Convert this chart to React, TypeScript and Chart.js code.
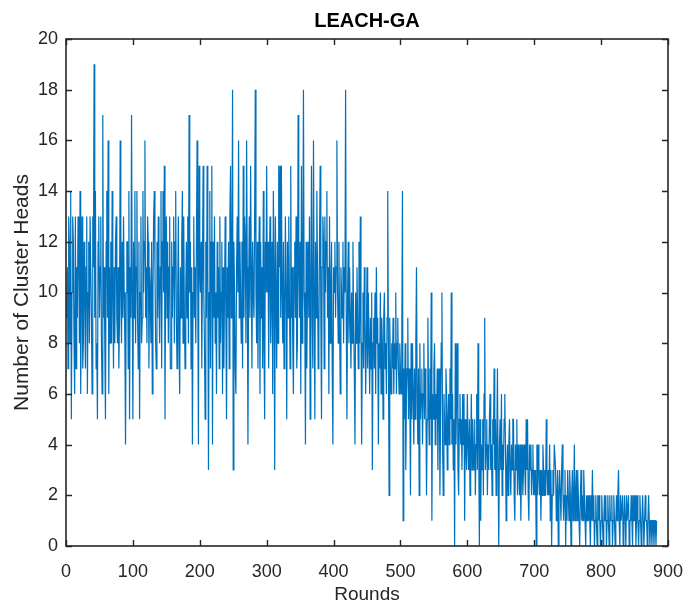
import { useEffect, useRef } from "react";
import { Chart, registerables } from "chart.js";

Chart.register(...registerables);

// Number of cluster heads per round (rounds 1..883)
const heads001to100 = [
  9, 11, 7, 13, 12, 8, 14, 5, 10, 13, 12, 8, 6, 13, 7, 11, 9, 13, 12, 8,
  14, 6, 10, 13, 7, 8, 12, 10, 7, 11, 13, 6, 10, 12, 8, 13, 13, 9, 6, 13,
  11, 19, 9, 14, 7, 8, 5, 12, 13, 9, 11, 13, 8, 6, 17, 9, 11, 8, 5, 12,
  14, 9, 16, 6, 11, 8, 12, 8, 14, 10, 7, 11, 8, 12, 13, 9, 8, 11, 7, 9,
  16, 10, 8, 12, 9, 13, 10, 8, 4, 10, 12, 12, 7, 14, 5, 11, 9, 17, 10, 5,
];
const heads101to200 = [
  12, 9, 14, 8, 11, 14, 9, 7, 12, 5, 10, 13, 8, 9, 14, 10, 12, 16, 9, 11,
  8, 13, 12, 7, 11, 10, 8, 12, 6, 10, 13, 14, 11, 8, 7, 12, 9, 13, 10, 8,
  11, 14, 7, 12, 14, 10, 15, 5, 11, 13, 9, 12, 8, 11, 13, 7, 7, 12, 9, 11,
  13, 8, 12, 14, 9, 7, 10, 13, 8, 6, 11, 9, 12, 14, 8, 13, 9, 7, 10, 12,
  9, 13, 8, 17, 10, 12, 7, 11, 4, 10, 13, 9, 11, 8, 12, 16, 10, 4, 15, 11,
];
const heads201to300 = [
  10, 12, 7, 11, 15, 10, 8, 5, 12, 9, 15, 11, 3, 10, 14, 7, 12, 15, 4, 12,
  9, 13, 8, 10, 6, 12, 9, 11, 7, 13, 8, 10, 12, 6, 11, 7, 10, 13, 9, 5,
  11, 9, 12, 7, 13, 15, 9, 11, 18, 3, 12, 10, 7, 6, 11, 13, 10, 16, 9, 12,
  10, 8, 12, 7, 15, 9, 13, 12, 8, 16, 11, 4, 10, 13, 9, 15, 11, 7, 12, 10,
  9, 13, 18, 10, 8, 12, 7, 11, 13, 6, 12, 9, 11, 7, 14, 8, 5, 12, 10, 15,
];
const heads301to400 = [
  10, 12, 7, 11, 13, 8, 10, 12, 6, 14, 11, 3, 13, 10, 7, 12, 8, 15, 11, 15,
  9, 15, 10, 8, 12, 7, 9, 13, 10, 5, 12, 9, 13, 10, 7, 15, 9, 11, 8, 6,
  11, 12, 9, 13, 7, 8, 17, 11, 9, 12, 6, 15, 8, 11, 18, 10, 9, 4, 12, 7,
  10, 12, 9, 13, 5, 10, 15, 9, 7, 16, 10, 5, 12, 9, 14, 11, 7, 8, 12, 15,
  9, 5, 11, 13, 12, 7, 13, 10, 12, 14, 9, 11, 6, 13, 8, 10, 12, 7, 4, 11,
];
const heads401to500 = [
  10, 12, 9, 11, 16, 10, 8, 12, 9, 6, 11, 10, 9, 12, 8, 11, 10, 18, 9, 5,
  10, 12, 8, 11, 9, 7, 10, 8, 12, 9, 7, 4, 10, 8, 11, 9, 7, 12, 8, 13,
  9, 4, 8, 10, 7, 11, 9, 6, 8, 11, 7, 10, 8, 6, 9, 7, 10, 3, 8, 9,
  7, 10, 6, 11, 8, 9, 4, 8, 7, 10, 6, 9, 8, 5, 9, 10, 7, 8, 6, 9,
  14, 8, 2, 9, 7, 6, 8, 7, 9, 6, 8, 7, 10, 6, 8, 9, 7, 6, 8, 7,
];
const heads501to600 = [
  6, 8, 14, 1, 7, 5, 8, 3, 6, 7, 9, 5, 7, 6, 2, 8, 5, 8, 6, 4,
  7, 5, 8, 11, 6, 4, 7, 2, 8, 5, 6, 7, 4, 6, 8, 5, 7, 6, 2, 5,
  9, 6, 4, 7, 5, 10, 1, 6, 5, 7, 8, 4, 6, 5, 7, 3, 6, 7, 2, 5,
  8, 10, 4, 2, 6, 5, 4, 7, 6, 3, 5, 6, 4, 7, 5, 10, 4, 6, 3, 5,
  0, 8, 4, 6, 8, 3, 2, 5, 6, 4, 5, 3, 6, 4, 6, 1, 5, 4, 3, 6,
];
const heads601to700 = [
  4, 3, 5, 2, 4, 6, 3, 5, 4, 3, 5, 2, 4, 6, 3, 8, 4, 0, 5, 1,
  4, 3, 5, 2, 6, 9, 3, 4, 5, 2, 4, 3, 5, 6, 3, 4, 2, 5, 4, 7,
  3, 5, 2, 4, 7, 3, 0, 4, 5, 3, 6, 2, 4, 3, 5, 6, 4, 1, 3, 4,
  2, 4, 5, 3, 2, 4, 3, 5, 5, 2, 1, 4, 3, 5, 2, 4, 3, 2, 4, 1,
  3, 4, 2, 3, 4, 3, 2, 5, 3, 5, 2, 1, 4, 3, 4, 2, 3, 4, 2, 3,
];
const heads701to800 = [
  2, 3, 0, 4, 2, 4, 3, 2, 3, 1, 3, 2, 4, 3, 2, 3, 2, 5, 3, 2,
  3, 2, 4, 1, 3, 0, 2, 3, 2, 4, 4, 3, 1, 2, 3, 0, 2, 3, 2, 1,
  3, 4, 2, 1, 2, 3, 0, 2, 1, 3, 2, 1, 3, 2, 0, 2, 3, 1, 2, 4,
  1, 2, 3, 1, 3, 2, 1, 0, 2, 3, 1, 2, 1, 3, 2, 1, 0, 2, 1, 2,
  1, 2, 1, 0, 2, 1, 3, 1, 2, 0, 1, 2, 1, 0, 2, 1, 2, 1, 0, 1,
];
const heads801to883 = [
  2, 1, 0, 1, 2, 1, 2, 0, 1, 2, 1, 0, 2, 1, 1, 2, 0, 1, 2, 1,
  0, 1, 2, 1, 2, 3, 1, 0, 2, 1, 1, 2, 0, 1, 2, 1, 0, 2, 1, 1,
  2, 0, 1, 1, 2, 1, 0, 2, 1, 1, 2, 0, 1, 2, 1, 0, 1, 2, 1, 0,
  1, 2, 1, 0, 1, 2, 1, 1, 0, 1, 2, 1, 0, 1, 1, 0, 1, 1, 0, 1, 1, 0, 1,
];

const xTickValues = [0, 100, 200, 300, 400, 500, 600, 700, 800, 900];
const yTickValues = [0, 2, 4, 6, 8, 10, 12, 14, 16, 18, 20];

const chartTitle = "LEACH-GA";
const xAxisTitle = "Rounds";
const yAxisTitle = "Number of Cluster Heads";

const FONT = "'Liberation Sans', Arial, Helvetica, sans-serif";
const AXIS_COLOR = "#262626";

export default function App() {
  const canvasRef = useRef<HTMLCanvasElement | null>(null);

  useEffect(() => {
    const canvas = canvasRef.current;
    if (!canvas) return;

    const heads = [
      ...heads001to100,
      ...heads101to200,
      ...heads201to300,
      ...heads301to400,
      ...heads401to500,
      ...heads501to600,
      ...heads601to700,
      ...heads701to800,
      ...heads801to883,
    ];
    const points = heads.map((v, i) => ({ x: i + 1, y: v }));

    const boxPlugin = {
      id: "matlabBox",
      afterDatasetsDraw(chart: any) {
        const { ctx, chartArea: a, scales } = chart;
        ctx.save();
        ctx.strokeStyle = AXIS_COLOR;
        ctx.lineWidth = 1.6;
        ctx.strokeRect(a.left, a.top, a.right - a.left, a.bottom - a.top);
        ctx.lineWidth = 1.4;
        const tl = 6;
        ctx.beginPath();
        xTickValues.forEach((t) => {
          const px = Math.round(scales.x.getPixelForValue(t)) + 0.5;
          ctx.moveTo(px, a.bottom);
          ctx.lineTo(px, a.bottom - tl);
          ctx.moveTo(px, a.top);
          ctx.lineTo(px, a.top + tl);
        });
        yTickValues.forEach((t) => {
          const py = Math.round(scales.y.getPixelForValue(t)) + 0.5;
          ctx.moveTo(a.left, py);
          ctx.lineTo(a.left + tl, py);
          ctx.moveTo(a.right, py);
          ctx.lineTo(a.right - tl, py);
        });
        ctx.stroke();
        ctx.restore();
      },
    };

    const chart = new Chart(canvas, {
      type: "line",
      data: {
        datasets: [
          {
            data: points,
            borderColor: "#0072BD",
            borderWidth: 1.2,
            pointRadius: 0,
            tension: 0,
            fill: false,
          },
        ],
      },
      options: {
        animation: false,
        responsive: false,
        events: [],
        layout: { padding: { left: 0, right: 16, top: 0, bottom: 0 } },
        plugins: {
          legend: { display: false },
          tooltip: { enabled: false },
          title: {
            display: true,
            text: chartTitle,
            fullSize: false,
            color: "#000",
            font: { family: FONT, size: 20, weight: "bold" },
            padding: { top: 9, bottom: 6 },
          },
        },
        scales: {
          x: {
            type: "linear",
            min: 0,
            max: 900,
            afterBuildTicks: (scale: any) => {
              scale.ticks = xTickValues.map((v) => ({ value: v }));
            },
            afterFit: (scale: any) => {
              scale.height = 62;
              scale.paddingLeft = 0;
              scale.paddingRight = 0;
            },
            grid: { display: false, drawTicks: false },
            border: { display: false },
            ticks: {
              padding: 15,
              autoSkip: false,
              maxRotation: 0,
              color: AXIS_COLOR,
              font: { family: FONT, size: 18 },
            },
            title: {
              display: true,
              text: xAxisTitle,
              color: AXIS_COLOR,
              font: { family: FONT, size: 19 },
              padding: { top: 0, bottom: 2 },
            },
          },
          y: {
            type: "linear",
            min: 0,
            max: 20,
            afterBuildTicks: (scale: any) => {
              scale.ticks = yTickValues.map((v) => ({ value: v }));
            },
            afterFit: (scale: any) => {
              scale.width = 66;
            },
            grid: { display: false, drawTicks: false },
            border: { display: false },
            ticks: {
              padding: 8,
              autoSkip: false,
              color: AXIS_COLOR,
              font: { family: FONT, size: 18 },
            },
            title: {
              display: true,
              text: yAxisTitle,
              color: AXIS_COLOR,
              font: { family: FONT, size: 21 },
              padding: { top: 10, bottom: 0 },
            },
          },
        },
      },
      plugins: [boxPlugin],
    });

    return () => chart.destroy();
  }, []);

  return (
    <div
      style={{
        position: "fixed",
        left: 0,
        top: 0,
        width: 684,
        height: 608,
        background: "#fff",
      }}
    >
      <canvas ref={canvasRef} width={684} height={608} style={{ display: "block" }} />
    </div>
  );
}
